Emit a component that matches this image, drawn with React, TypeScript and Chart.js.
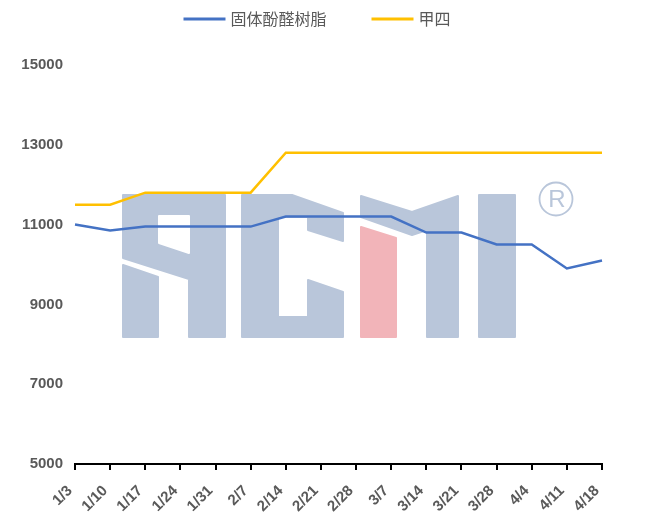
import React, { useEffect, useRef } from 'react';
import { Chart, registerables } from 'chart.js';

Chart.register(...registerables);

const categories = ['1/3', '1/10', '1/17', '1/24', '1/31', '2/7', '2/14', '2/21', '2/28', '3/7', '3/14', '3/21', '3/28', '4/4', '4/11', '4/18'];
const resinValues = [11000, 10850, 10950, 10950, 10950, 10950, 11200, 11200, 11200, 11200, 10800, 10800, 10500, 10500, 9900, 10100];
const mcpaValues = [11500, 11500, 11800, 11800, 11800, 11800, 12800, 12800, 12800, 12800, 12800, 12800, 12800, 12800, 12800, 12800];
const seriesNames = ['固体酚醛树脂', '甲四'];
const seriesColors = ['#4472C4', '#FFC000'];
const yMin = 5000;
const yMax = 15000;
const yStep = 2000;

const labelColor = '#595959';
const tickFont = { family: '"Liberation Sans", Arial, sans-serif', size: 15, weight: 'bold' as const };

// background watermark (logo), drawn in canvas pixel space
const wmBlue = '#B9C6DA';
const wmPink = '#F2B4B9';
const wmShapes: { color: string; pts: number[][] }[] = [
  { color: wmBlue, pts: [[123, 195], [225, 195], [225, 337], [189, 337], [189, 279], [123, 258]] },
  { color: wmBlue, pts: [[123, 265], [158, 277], [158, 337], [123, 337]] },
  { color: wmBlue, pts: [[242, 195], [292, 195], [343, 213], [343, 241], [308, 230], [308, 217], [278, 217], [278, 317], [308, 317], [308, 280], [343, 292], [343, 337], [242, 337]] },
  { color: wmBlue, pts: [[361, 196], [412, 212], [458, 196], [458, 337], [427, 337], [427, 230], [412, 235], [361, 217]] },
  { color: wmPink, pts: [[361, 227], [396, 238], [396, 337], [361, 337]] },
  { color: wmBlue, pts: [[479, 195], [515, 195], [515, 337], [479, 337]] },
];
const wmHoles: number[][][] = [
  [[159, 216], [189, 216], [189, 253], [159, 243]],
];

const watermark = {
  id: 'watermark',
  beforeDatasetsDraw(chart: any) {
    const ctx = chart.ctx as CanvasRenderingContext2D;
    ctx.save();
    ctx.lineJoin = 'round';
    wmShapes.forEach((s) => {
      ctx.beginPath();
      s.pts.forEach((p, i) => (i === 0 ? ctx.moveTo(p[0], p[1]) : ctx.lineTo(p[0], p[1])));
      ctx.closePath();
      ctx.fillStyle = s.color;
      ctx.strokeStyle = s.color;
      ctx.lineWidth = 2;
      ctx.fill();
      ctx.stroke();
    });
    wmHoles.forEach((h) => {
      ctx.beginPath();
      h.forEach((p, i) => (i === 0 ? ctx.moveTo(p[0], p[1]) : ctx.lineTo(p[0], p[1])));
      ctx.closePath();
      ctx.fillStyle = '#fff';
      ctx.strokeStyle = '#fff';
      ctx.lineWidth = 2;
      ctx.fill();
      ctx.stroke();
    });
    // registered mark
    ctx.strokeStyle = wmBlue;
    ctx.lineWidth = 1.8;
    ctx.beginPath();
    ctx.arc(556, 199, 16.5, 0, Math.PI * 2);
    ctx.stroke();
    ctx.fillStyle = wmBlue;
    ctx.font = '24px "Liberation Sans", Arial, sans-serif';
    ctx.textAlign = 'center';
    ctx.textBaseline = 'middle';
    ctx.fillText('R', 557, 200);
    ctx.restore();
  },
};

const topLegend = {
  id: 'topLegend',
  afterDraw(chart: any) {
    const ctx = chart.ctx as CanvasRenderingContext2D;
    ctx.save();
    ctx.font = '16px "Noto Sans CJK SC", sans-serif';
    const lineW = 42;
    const gap = 5;
    const itemGap = 45;
    const items = chart.data.datasets.map((d: any) => ({
      label: d.label as string,
      color: d.borderColor as string,
      w: ctx.measureText(d.label).width,
    }));
    let total = 0;
    items.forEach((it: any, i: number) => {
      total += lineW + gap + it.w + (i > 0 ? itemGap : 0);
    });
    let x = (chart.width - total) / 2 - 6;
    const y = 19;
    items.forEach((it: any) => {
      ctx.strokeStyle = it.color;
      ctx.lineWidth = 3;
      ctx.beginPath();
      ctx.moveTo(x, y);
      ctx.lineTo(x + lineW, y);
      ctx.stroke();
      ctx.fillStyle = labelColor;
      ctx.textBaseline = 'middle';
      ctx.textAlign = 'left';
      ctx.fillText(it.label, x + lineW + gap, y);
      x += lineW + gap + it.w + itemGap;
    });
    ctx.restore();
  },
};

export default function App() {
  const ref = useRef<HTMLCanvasElement | null>(null);
  useEffect(() => {
    if (!ref.current) return;
    const chart = new Chart(ref.current, {
      type: 'line',
      data: {
        labels: categories,
        datasets: [
          {
            label: seriesNames[0],
            data: resinValues,
            borderColor: seriesColors[0],
            backgroundColor: seriesColors[0],
            borderWidth: 2.5,
            pointRadius: 0,
            tension: 0,
          },
          {
            label: seriesNames[1],
            data: mcpaValues,
            borderColor: seriesColors[1],
            backgroundColor: seriesColors[1],
            borderWidth: 2.5,
            pointRadius: 0,
            tension: 0,
          },
        ],
      },
      options: {
        animation: false,
        responsive: false,
        layout: { padding: { top: 65, right: 44, bottom: 0, left: 0 } },
        plugins: {
          legend: { display: false },
          tooltip: { enabled: false },
        },
        scales: {
          x: {
            offset: false,
            grid: { display: true, drawOnChartArea: false, drawTicks: true, tickLength: 6, color: '#000', lineWidth: 2 },
            border: { display: true, color: '#000', width: 2 },
            ticks: {
              color: labelColor,
              font: tickFont,
              maxRotation: 45,
              minRotation: 45,
              autoSkip: false,
              padding: 12,
              labelOffset: -5,
            },
            afterFit(scale: any) {
              scale.height = 57;
            },
          },
          y: {
            min: yMin,
            max: yMax,
            grid: { display: false, drawTicks: false },
            border: { display: false },
            ticks: {
              stepSize: yStep,
              color: labelColor,
              font: tickFont,
              padding: 12,
              callback: (v: any) => String(v),
            },
            afterFit(scale: any) {
              scale.width = 75;
            },
          },
        },
      },
      plugins: [watermark, topLegend],
    });
    return () => chart.destroy();
  }, []);
  return (
    <div style={{ position: 'absolute', left: 0, top: 0, width: 646, height: 521, background: '#fff' }}>
      <canvas ref={ref} width={646} height={521} style={{ width: 646, height: 521 }} />
    </div>
  );
}
